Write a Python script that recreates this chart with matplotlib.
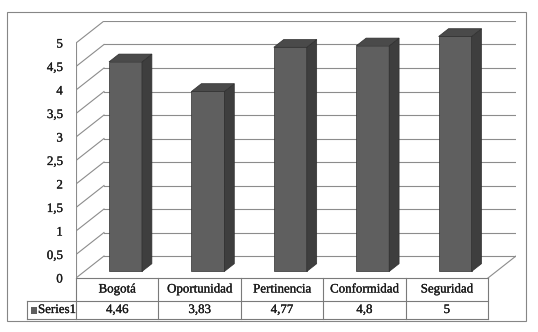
import numpy as np
import matplotlib.pyplot as plt
import matplotlib.patheffects as pe
from matplotlib.patches import Polygon, Rectangle
from matplotlib.transforms import blended_transform_factory

# ----- data -----
categories = ["Bogotá", "Oportunidad", "Pertinencia", "Conformidad", "Seguridad"]
values = [4.46, 3.83, 4.77, 4.8, 5]
value_labels = ["4,46", "3,83", "4,77", "4,8", "5"]
series_name = "Series1"
yticks = np.arange(0, 5.01, 0.5)
ytick_labels = ["0", "0,5", "1", "1,5", "2", "2,5", "3", "3,5", "4", "4,5", "5"]

plt.rcParams['font.family'] = ['Liberation Serif', 'DejaVu Serif']
thick = [pe.withStroke(linewidth=0.2, foreground='#1a1a1a')]

W, H = 538, 332
fig = plt.figure(figsize=(W / 100, H / 100), dpi=100)

# plot area in pixels (front plane 76..488 x, 278..43 y)
px_cat = 82.4     # px per category
px_val = 47.0     # px per unit value
DX = 28 / px_cat  # depth offset in data units
DY = 22 / px_val
x0, x1 = -0.5, len(categories) - 0.5
ymax = 5.0

left_px, bottom_px = 76, 278
ax_w = (x1 - x0 + DX) * px_cat
ax_h = (ymax + DY) * px_val
ax = fig.add_axes([left_px / W, (H - bottom_px) / H, ax_w / W, ax_h / H])
ax.set_xlim(x0, x1 + DX)
ax.set_ylim(0, ymax + DY)
for s in ax.spines.values():
    s.set_visible(False)
ax.set_xticks([])
ax.set_yticks(yticks)
ax.set_yticklabels(ytick_labels, fontsize=9.3, color='#1a1a1a')
for t in ax.get_yticklabels():
    t.set_path_effects(thick)
ax.tick_params(axis='y', length=0, pad=9.5)
ax.patch.set_alpha(0)

grid_c = '#8c8c8c'
# back wall gridlines + side wall diagonals
for v in yticks:
    ax.plot([x0 + DX, x1 + DX], [v + DY, v + DY], color=grid_c, lw=0.8, zorder=1)
    ax.plot([x0, x0 + DX], [v, v + DY], color=grid_c, lw=0.8, zorder=1)
# front edge of side wall and floor
ax.plot([x0, x0], [0, ymax], color=grid_c, lw=0.8, zorder=1)
ax.plot([x1, x1 + DX], [0, DY], color=grid_c, lw=0.8, zorder=1)

# ----- 3D bars -----
bw = 0.2
d0, d1 = 0.296, 0.65
front_c, side_c, top_c, edge_c = '#5f5f5f', '#3e3e3e', '#4a4a4a', '#2f2f2f'
for i, v in enumerate(values):
    fx0 = i - bw + d0 * DX
    fx1 = i + bw + d0 * DX
    fy = d0 * DY
    bx = (d1 - d0) * DX
    by = (d1 - d0) * DY
    front = Polygon([(fx0, fy), (fx1, fy), (fx1, fy + v), (fx0, fy + v)],
                    closed=True, fc=front_c, ec=edge_c, lw=0.5, zorder=3)
    side = Polygon([(fx1, fy), (fx1 + bx, fy + by), (fx1 + bx, fy + by + v), (fx1, fy + v)],
                   closed=True, fc=side_c, ec=edge_c, lw=0.5, zorder=3)
    top = Polygon([(fx0, fy + v), (fx1, fy + v), (fx1 + bx, fy + by + v), (fx0 + bx, fy + by + v)],
                  closed=True, fc=top_c, ec=edge_c, lw=0.5, zorder=3)
    for p in (front, side, top):
        ax.add_patch(p)

# ----- data table -----
tr = blended_transform_factory(ax.transData, ax.transAxes)
r0 = 0.0
r1 = -23 / ax_h
r2 = -41 / ax_h
hx = x0 - 49 / px_cat
tab_c = '#7a7a7a'
kw = dict(color=tab_c, lw=0.8, transform=tr, clip_on=False)
ax.plot([x0, x1], [r0, r0], **kw)
ax.plot([hx, x1], [r1, r1], **kw)
ax.plot([hx, x1], [r2, r2], **kw)
ax.plot([hx, hx], [r1, r2], **kw)
for k in range(len(categories) + 1):
    ax.plot([x0 + k, x0 + k], [r0, r2], **kw)
tkw = dict(transform=tr, va='center', fontsize=9.3, color='#1a1a1a', path_effects=thick)
for i, (c, lab) in enumerate(zip(categories, value_labels)):
    ax.text(i, (r0 + r1) / 2, c, ha='center', **tkw)
    ax.text(i, (r1 + r2) / 2, lab, ha='center', **tkw)
ax.add_patch(Rectangle((hx + 3.5 / px_cat, (r1 + r2) / 2 - 3.5 / ax_h), 6.5 / px_cat, 7 / ax_h,
                       transform=tr, fc=front_c, ec='none', clip_on=False))
ax.text(hx + 11 / px_cat, (r1 + r2) / 2, series_name, ha='left', **tkw)

# outer border
fig.patches.append(Rectangle((7 / W, (H - 321) / H), 519 / W, 309 / H,
                             transform=fig.transFigure, fill=False,
                             ec='#868686', lw=0.8))

fig.savefig('out.png', dpi=100)
